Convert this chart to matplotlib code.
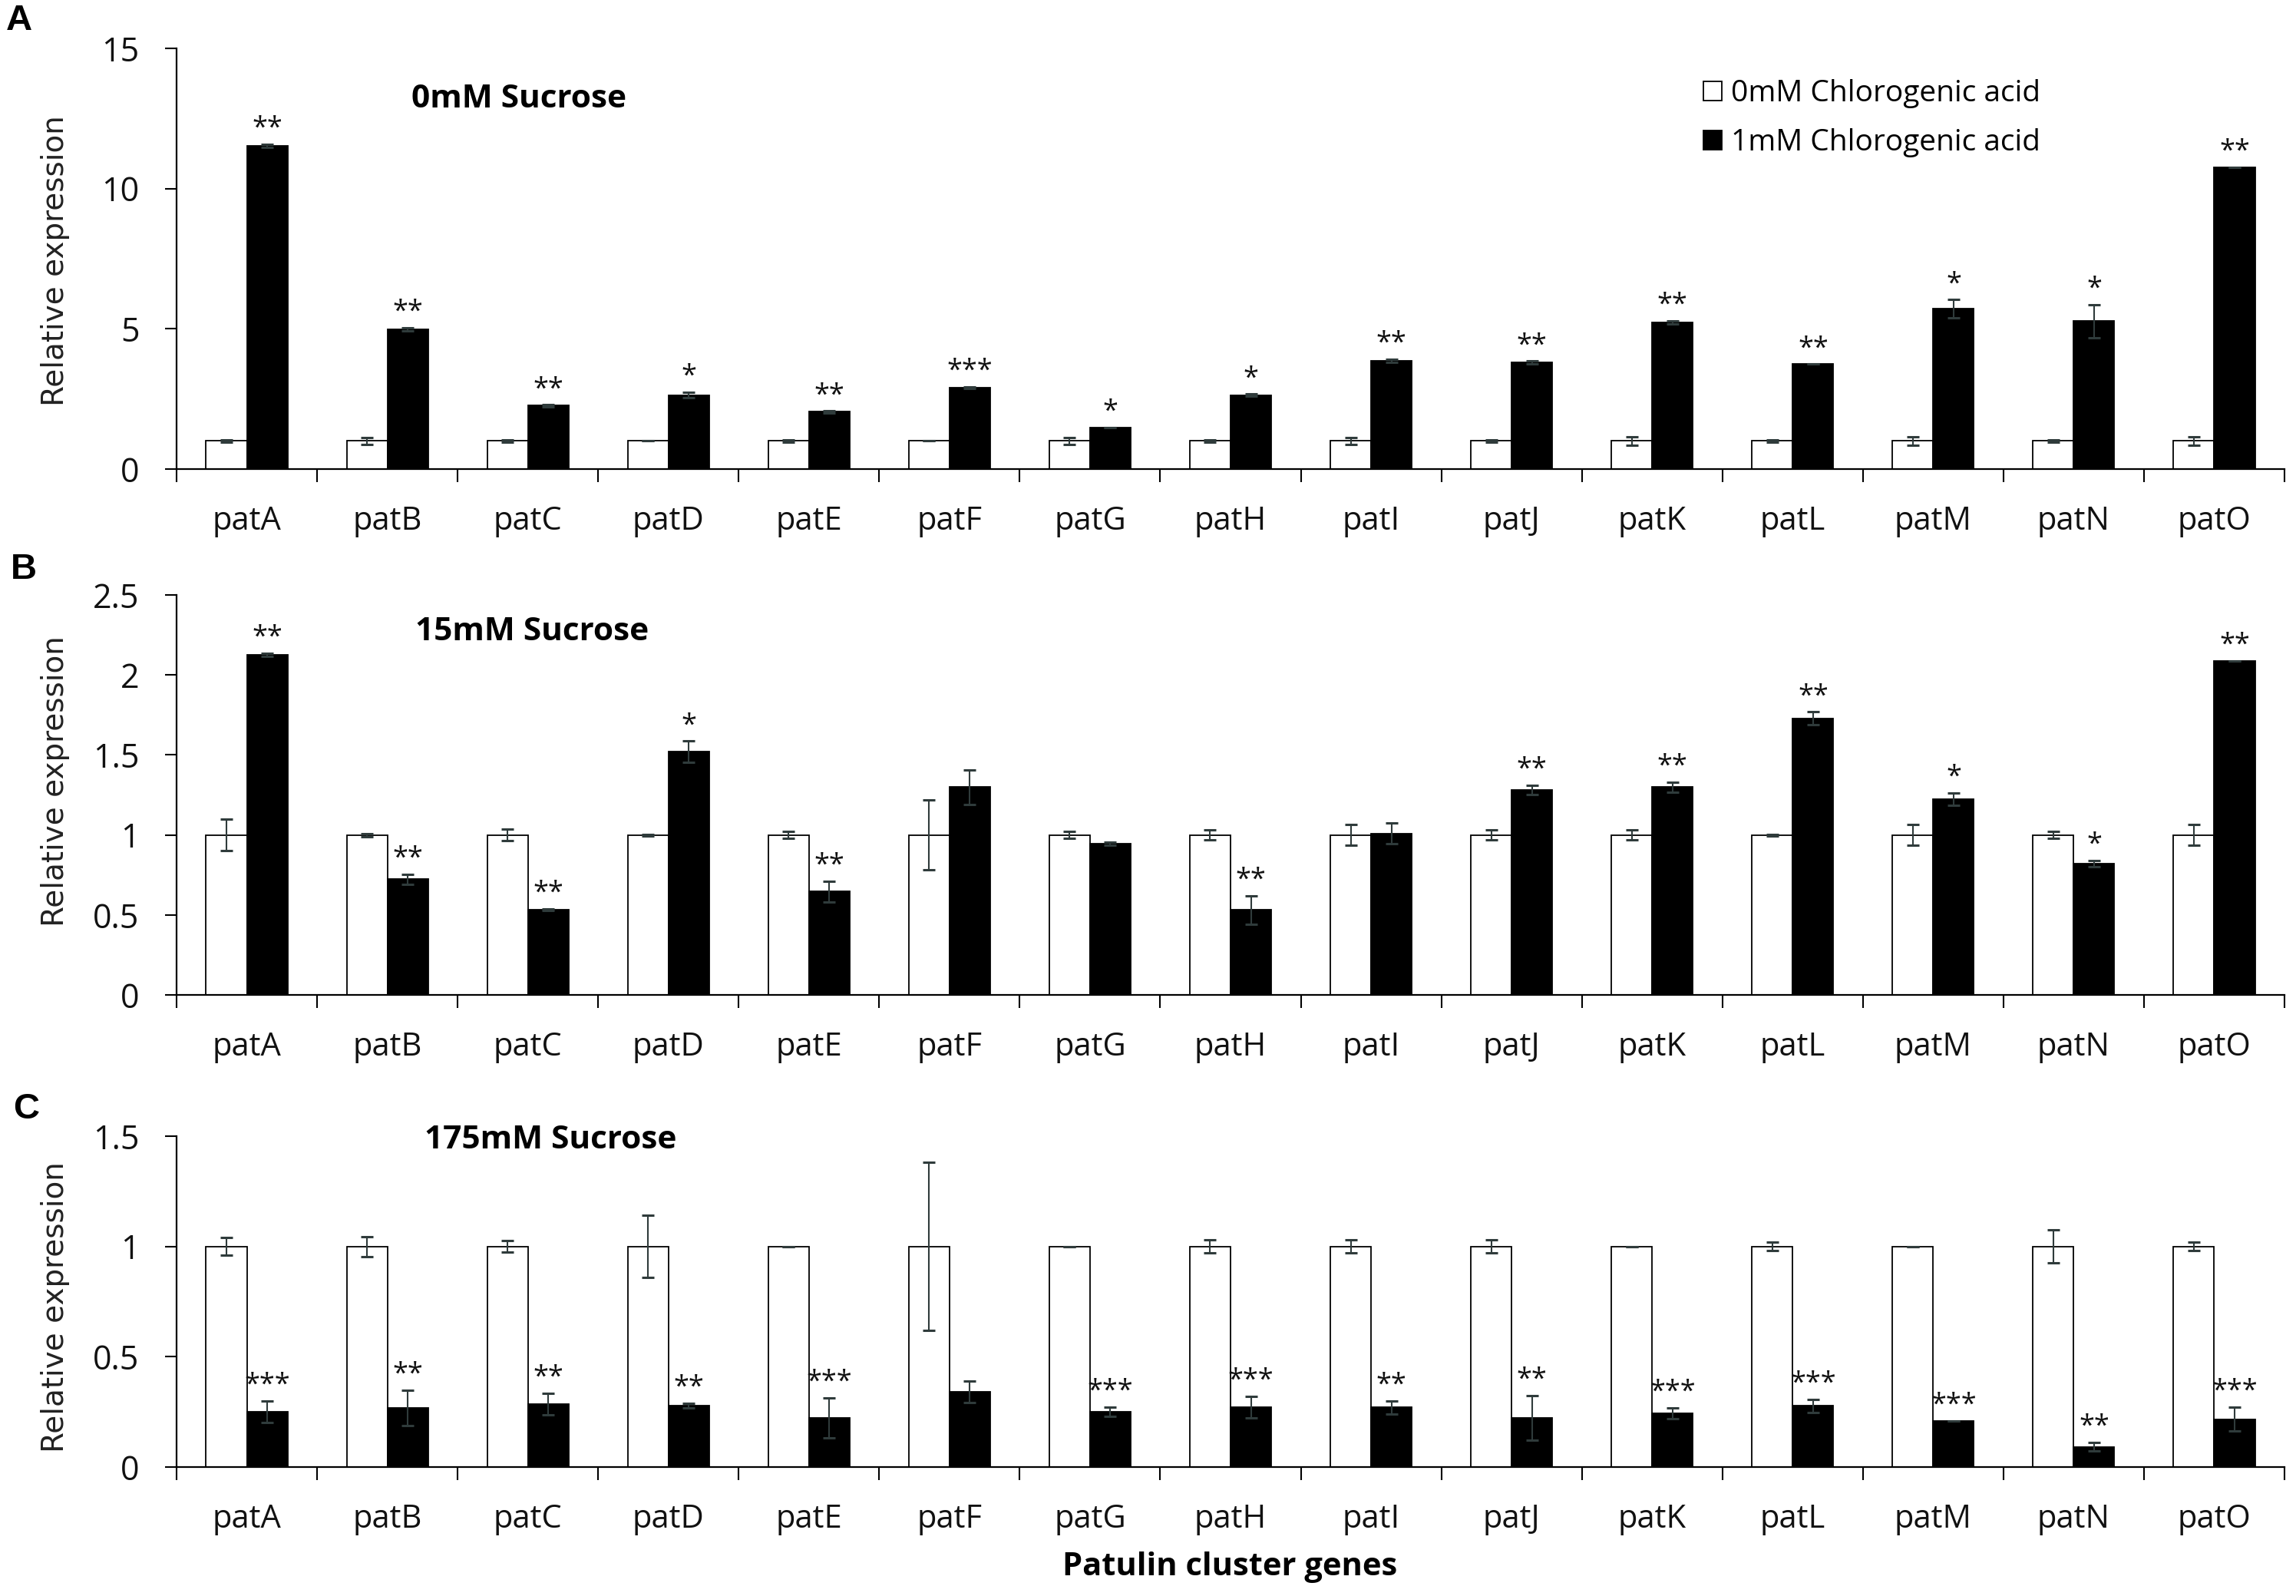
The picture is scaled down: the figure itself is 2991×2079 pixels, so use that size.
import numpy as np
import matplotlib
matplotlib.use('Agg')
import matplotlib.pyplot as plt
from matplotlib.ticker import FormatStrFormatter

plt.rcParams['font.family'] = ['Open Sans', 'DejaVu Sans']

# genes on the x axis
genes = ['patA', 'patB', 'patC', 'patD', 'patE', 'patF', 'patG', 'patH',
         'patI', 'patJ', 'patK', 'patL', 'patM', 'patN', 'patO']

# A: 0mM sucrose
a_ctrl = [1, 1, 1, 1, 1, 1, 1, 1, 1, 1, 1, 1, 1, 1, 1]
a_ctrl_err = [0.03, 0.13, 0.05, 0.0, 0.03, 0.0, 0.12, 0.03, 0.12, 0.03, 0.15, 0.03, 0.15, 0.03, 0.15]
a_cga = [11.52, 4.99, 2.26, 2.64, 2.04, 2.91, 1.48, 2.64, 3.86, 3.80, 5.23, 3.74, 5.72, 5.27, 10.75]
a_cga_err = [0.05, 0.05, 0.03, 0.10, 0.03, 0.03, 0.0, 0.03, 0.05, 0.05, 0.06, 0.0, 0.32, 0.60, 0.0]
a_sig = ['**', '**', '**', '*', '**', '***', '*', '*', '**', '**', '**', '**', '*', '*', '**']

# B: 15mM sucrose
b_ctrl = [1, 1, 1, 1, 1, 1, 1, 1, 1, 1, 1, 1, 1, 1, 1]
b_ctrl_err = [0.10, 0.01, 0.035, 0.005, 0.02, 0.22, 0.02, 0.03, 0.065, 0.03, 0.03, 0.005, 0.065, 0.02, 0.065]
b_cga = [2.125, 0.723, 0.531, 1.521, 0.646, 1.298, 0.944, 0.531, 1.01, 1.281, 1.298, 1.729, 1.223, 0.819, 2.088]
b_cga_err = [0.01, 0.03, 0.005, 0.065, 0.065, 0.11, 0.01, 0.09, 0.065, 0.03, 0.03, 0.04, 0.04, 0.02, 0.0]
b_sig = ['**', '**', '**', '*', '**', '', '', '**', '', '**', '**', '**', '*', '*', '**']

# C: 175mM sucrose
c_ctrl = [1, 1, 1, 1, 1, 1, 1, 1, 1, 1, 1, 1, 1, 1, 1]
c_ctrl_err = [0.04, 0.045, 0.025, 0.14, 0.0, 0.38, 0.0, 0.03, 0.03, 0.03, 0.0, 0.02, 0.0, 0.075, 0.02]
c_cga = [0.251, 0.267, 0.285, 0.279, 0.223, 0.341, 0.251, 0.271, 0.271, 0.223, 0.243, 0.278, 0.209, 0.092, 0.217]
c_cga_err = [0.05, 0.08, 0.05, 0.01, 0.09, 0.05, 0.02, 0.05, 0.03, 0.10, 0.025, 0.03, 0.0, 0.02, 0.055]
c_sig = ['***', '**', '**', '**', '***', '', '***', '***', '**', '**', '***', '***', '***', '**', '***']

W, H = 2991, 2079
fig = plt.figure(figsize=(W / 100, H / 100), dpi=100)
ecol = '#2f3b3b'
w = 0.29


def draw(ax, ctrl, ctrl_err, cga, cga_err, sig, ymax, ystep):
    x = np.arange(len(genes))
    b1 = ax.bar(x - w / 2, ctrl, w, color='white', edgecolor='black', linewidth=1.3, zorder=2)
    b2 = ax.bar(x + w / 2, cga, w, color='black', edgecolor='black', linewidth=1.3, zorder=2)
    ax.errorbar(x - w / 2, ctrl, yerr=ctrl_err, fmt='none', ecolor=ecol,
                elinewidth=1.5, capsize=5.5, capthick=2.2, zorder=3)
    ax.errorbar(x + w / 2, cga, yerr=cga_err, fmt='none', ecolor=ecol,
                elinewidth=1.5, capsize=5.5, capthick=2.2, zorder=3)
    for xi, v, e, s in zip(x, cga, cga_err, sig):
        if s:
            ax.annotate(s, (xi + w / 2, v + e), xytext=(0, 8), textcoords='offset points',
                        ha='center', va='baseline', fontsize=26, color='#111111')
    ax.set_xlim(-0.5, 14.5)
    ax.set_ylim(0, ymax)
    ax.set_yticks(np.arange(0, ymax + ystep / 2, ystep))
    ax.yaxis.set_major_formatter(FormatStrFormatter('%g'))
    ax.set_xticks(x)
    ax.set_xticklabels(genes)
    ax.set_xticks(np.arange(-0.5, 15, 1), minor=True)
    ax.tick_params(axis='x', which='major', length=0, pad=34, labelsize=30, labelcolor='#111111')
    ax.tick_params(axis='x', which='minor', length=12, width=1.5, direction='out')
    ax.tick_params(axis='y', length=10.8, width=1.5, pad=24, labelsize=31, labelcolor='#111111')
    for side in ['top', 'right']:
        ax.spines[side].set_visible(False)
    for side in ['left', 'bottom']:
        ax.spines[side].set_linewidth(1.6)
    return b1, b2


def ax_at(top, bottom):
    return fig.add_axes([230 / W, 1 - bottom / H, (2976 - 230) / W, (bottom - top) / H])


axA = ax_at(63, 611)
bA1, bA2 = draw(axA, a_ctrl, a_ctrl_err, a_cga, a_cga_err, a_sig, 15, 5)
axB = ax_at(775, 1296)
draw(axB, b_ctrl, b_ctrl_err, b_cga, b_cga_err, b_sig, 2.5, 0.5)
axC = ax_at(1480, 1911)
draw(axC, c_ctrl, c_ctrl_err, c_cga, c_cga_err, c_sig, 1.5, 0.5)

axA.legend([bA1, bA2], ['0mM Chlorogenic acid', '1mM Chlorogenic acid'],
           loc='upper left', bbox_to_anchor=(2219 / W, 1 - 103 / H), bbox_transform=fig.transFigure,
           frameon=False, fontsize=28, handlelength=0.62, handleheight=0.62,
           handletextpad=0.3, labelspacing=0.68, borderpad=0, borderaxespad=0)

# panel titles
fig.text(536 / W, 1 - 130 / H, '0mM Sucrose', fontweight='bold', fontsize=30.5, va='center')
fig.text(541 / W, 1 - 824 / H, '15mM Sucrose', fontweight='bold', fontsize=30.5, va='center')
fig.text(553 / W, 1 - 1485 / H, '175mM Sucrose', fontweight='bold', fontsize=30.5, va='center')

# panel letters
for letter, yc, xl in [('A', 27, 8), ('B', 742, 14), ('C', 1445, 17)]:
    fig.text(xl / W, 1 - yc / H, letter, family='Liberation Sans', fontweight='bold',
             fontsize=34, va='center', ha='left')

# y labels
for yc in [340, 1018, 1703]:
    fig.text(72 / W, 1 - yc / H, 'Relative expression', rotation=90, family='DejaVu Sans',
             fontsize=28, ha='center', va='center', color='#222222')

fig.text(1602 / W, 1 - 2041 / H, 'Patulin cluster genes', fontweight='bold', fontsize=30,
         ha='center', va='center')

fig.savefig('out.png', dpi=100)
